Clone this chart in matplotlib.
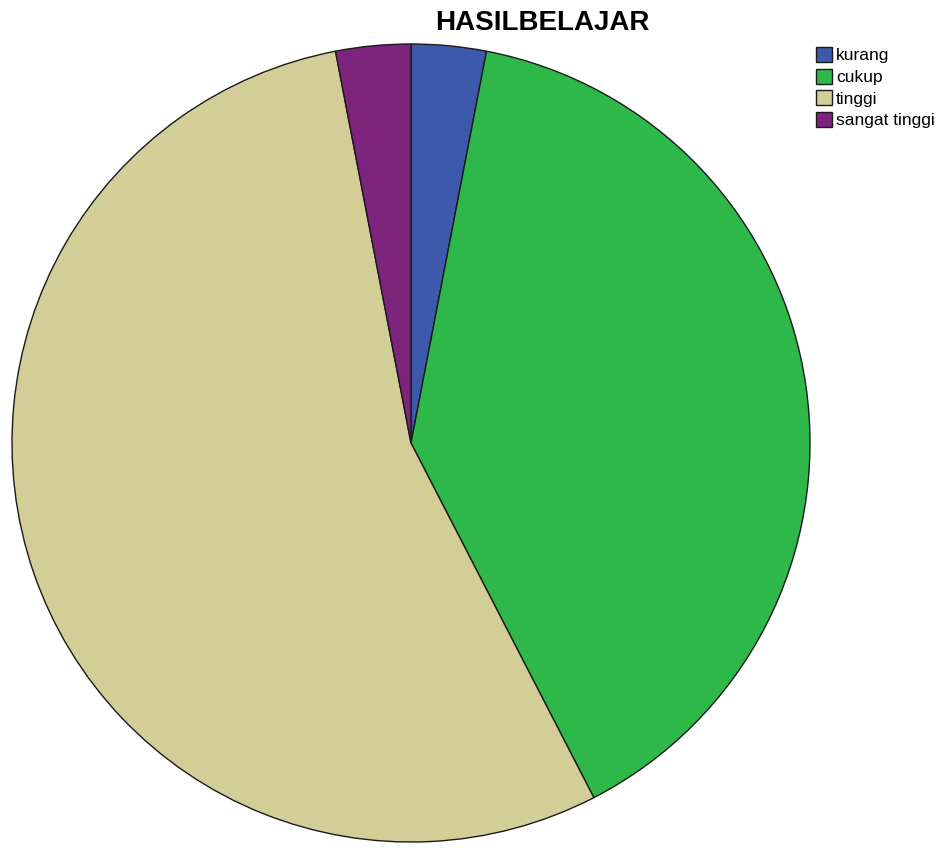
import matplotlib.pyplot as plt

####### DATA #######
labels = ["kurang", "cukup", "tinggi", "sangat tinggi"]
counts = [1, 13, 18, 1]
colors = ["#3D59AB", "#2EB84A", "#D3CE98", "#7D257D"]

plt.rcParams['font.family'] = ['Liberation Sans', 'DejaVu Sans']

fig = plt.figure(figsize=(9.52, 8.48), dpi=100)
# pie axes: centre ~ (411, 443) px, radius ~ 401 px
ax = fig.add_axes([10 / 952, 4 / 848, 802 / 952, 802 / 848])
wedges, _ = ax.pie(counts, colors=colors, startangle=90, counterclock=False,
                   radius=1, wedgeprops=dict(edgecolor="#1a1a1a", linewidth=1))
ax.set_xlim(-1.005, 1.005)
ax.set_ylim(-1.005, 1.005)
ax.set_aspect("equal")
ax.axis("off")

fig.text(542 / 952, 1 - 23 / 848, "HASILBELAJAR", ha="center", va="center",
         fontsize=20, fontweight="bold")

fig.legend(wedges, labels, loc="upper left", bbox_to_anchor=(816 / 952, 1 - 47 / 848),
           frameon=False, fontsize=12.5, handlelength=0.95, handleheight=0.95,
           handletextpad=0.2, labelspacing=0.3, borderaxespad=0, borderpad=0)

fig.savefig("out.png", dpi=100)
